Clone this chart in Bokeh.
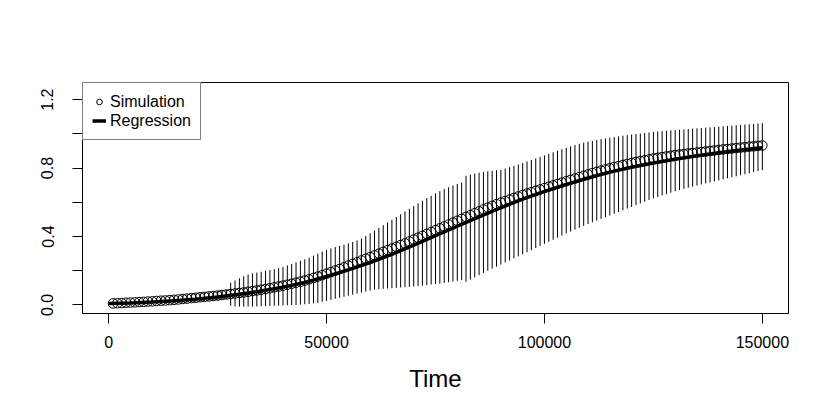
from bokeh.plotting import figure
from bokeh.models import Range1d, FixedTicker, Legend, LegendItem, ColumnDataSource
from bokeh.embed import file_html
from bokeh.resources import INLINE

# ---- data ----
time = list(range(1000, 150001, 1000))

sim_mean = [
    0.009, 0.010, 0.011, 0.013, 0.014, 0.015, 0.017, 0.018, 0.020, 0.021,
    0.023, 0.025, 0.026, 0.028, 0.030, 0.032, 0.035, 0.037, 0.040, 0.042,
    0.045, 0.047, 0.050, 0.052, 0.055, 0.058, 0.061, 0.064, 0.067, 0.070,
    0.073, 0.077, 0.081, 0.085, 0.089, 0.093, 0.098, 0.103, 0.108, 0.113,
    0.118, 0.124, 0.130, 0.136, 0.143, 0.150, 0.158, 0.166, 0.174, 0.183,
    0.192, 0.201, 0.210, 0.220, 0.230, 0.240, 0.250, 0.260, 0.270, 0.280,
    0.290, 0.300, 0.310, 0.320, 0.330, 0.340, 0.350, 0.360, 0.371, 0.382,
    0.393, 0.404, 0.415, 0.426, 0.437, 0.448, 0.459, 0.470, 0.481, 0.492,
    0.503, 0.514, 0.525, 0.536, 0.547, 0.558, 0.569, 0.579, 0.589, 0.598,
    0.607, 0.616, 0.625, 0.634, 0.643, 0.651, 0.659, 0.667, 0.675, 0.683,
    0.691, 0.699, 0.707, 0.715, 0.723, 0.731, 0.739, 0.747, 0.755, 0.763,
    0.771, 0.778, 0.785, 0.792, 0.799, 0.806, 0.812, 0.818, 0.824, 0.830,
    0.836, 0.841, 0.846, 0.851, 0.856, 0.860, 0.864, 0.868, 0.872, 0.876,
    0.879, 0.882, 0.885, 0.888, 0.891, 0.894, 0.897, 0.900, 0.903, 0.906,
    0.909, 0.912, 0.914, 0.917, 0.920, 0.922, 0.925, 0.927, 0.930, 0.932,
]

sim_upper = [
    0.019, 0.021, 0.023, 0.025, 0.027, 0.029, 0.031, 0.033, 0.036, 0.037,
    0.040, 0.043, 0.044, 0.047, 0.050, 0.052, 0.056, 0.059, 0.062, 0.065,
    0.068, 0.071, 0.074, 0.077, 0.080, 0.084, 0.087, 0.130, 0.143, 0.156,
    0.168, 0.178, 0.184, 0.189, 0.194, 0.199, 0.204, 0.209, 0.215, 0.222,
    0.231, 0.240, 0.249, 0.258, 0.267, 0.276, 0.288, 0.300, 0.312, 0.322,
    0.330, 0.338, 0.345, 0.352, 0.360, 0.368, 0.377, 0.389, 0.403, 0.419,
    0.435, 0.450, 0.466, 0.482, 0.498, 0.514, 0.530, 0.546, 0.562, 0.578,
    0.594, 0.609, 0.624, 0.638, 0.652, 0.665, 0.677, 0.688, 0.698, 0.707,
    0.715, 0.755, 0.762, 0.768, 0.773, 0.777, 0.781, 0.784, 0.787, 0.790,
    0.797, 0.805, 0.813, 0.821, 0.829, 0.838, 0.847, 0.856, 0.865, 0.874,
    0.883, 0.892, 0.901, 0.910, 0.918, 0.927, 0.935, 0.942, 0.948, 0.954,
    0.959, 0.964, 0.969, 0.973, 0.977, 0.981, 0.985, 0.989, 0.993, 0.996,
    0.999, 1.002, 1.005, 1.008, 1.011, 1.014, 1.016, 1.018, 1.020, 1.022,
    1.024, 1.026, 1.028, 1.030, 1.032, 1.034, 1.036, 1.038, 1.040, 1.042,
    1.044, 1.046, 1.048, 1.050, 1.052, 1.054, 1.056, 1.058, 1.060, 1.062,
]

sim_lower = [
    0.000, 0.000, 0.000, 0.001, 0.001, 0.001, 0.002, 0.003, 0.004, 0.005,
    0.006, 0.007, 0.008, 0.009, 0.010, 0.012, 0.014, 0.015, 0.018, 0.019,
    0.022, 0.023, 0.026, 0.027, 0.030, 0.032, 0.035, -0.005, -0.008, -0.010,
    -0.010, -0.010, -0.010, -0.009, -0.008, -0.007, -0.006, -0.005, -0.004, -0.003,
    -0.002, -0.001, 0.000, 0.002, 0.004, 0.006, 0.009, 0.013, 0.018, 0.024,
    0.030, 0.036, 0.042, 0.048, 0.054, 0.060, 0.066, 0.072, 0.078, 0.084,
    0.089, 0.092, 0.094, 0.096, 0.098, 0.100, 0.102, 0.104, 0.106, 0.108,
    0.110, 0.113, 0.116, 0.119, 0.122, 0.125, 0.129, 0.133, 0.137, 0.141,
    0.145, 0.135, 0.148, 0.161, 0.174, 0.187, 0.200, 0.212, 0.224, 0.236,
    0.248, 0.260, 0.272, 0.284, 0.296, 0.308, 0.320, 0.333, 0.345, 0.357,
    0.369, 0.381, 0.393, 0.405, 0.417, 0.429, 0.440, 0.451, 0.462, 0.473,
    0.483, 0.493, 0.503, 0.513, 0.523, 0.533, 0.543, 0.553, 0.563, 0.573,
    0.583, 0.593, 0.603, 0.613, 0.622, 0.631, 0.640, 0.648, 0.656, 0.664,
    0.671, 0.678, 0.685, 0.692, 0.698, 0.704, 0.710, 0.716, 0.722, 0.728,
    0.734, 0.740, 0.746, 0.752, 0.758, 0.764, 0.770, 0.776, 0.782, 0.788,
]

reg_time = [0, 5000, 10000, 15000, 20000, 25000, 30000, 35000, 40000, 45000,
            50000, 55000, 60000, 65000, 70000, 75000, 80000, 85000, 90000, 95000,
            100000, 105000, 110000, 115000, 120000, 125000, 130000, 135000,
            140000, 145000, 150000]
reg_value = [0.008, 0.012, 0.017, 0.024, 0.034, 0.047, 0.062, 0.081, 0.104, 0.132,
             0.166, 0.205, 0.248, 0.296, 0.350, 0.405, 0.460, 0.515, 0.568, 0.618,
             0.664, 0.705, 0.742, 0.776, 0.805, 0.830, 0.852, 0.872, 0.889, 0.905,
             0.919]

x_ticks = [0, 50000, 100000, 150000]
x_tick_labels = ["0", "50000", "100000", "150000"]
y_ticks = [0.0, 0.2, 0.4, 0.6, 0.8, 1.0, 1.2]
y_tick_labels = ["0.0", "", "0.4", "", "0.8", "", "1.2"]

FONT = "Liberation Sans"

src = ColumnDataSource(dict(t=time, m=sim_mean, lo=sim_lower, hi=sim_upper))
reg_src = ColumnDataSource(dict(t=reg_time, v=reg_value))

p = figure(
    frame_width=706, frame_height=231,
    min_border_left=82, min_border_top=82, min_border_right=34, min_border_bottom=94,
    x_range=Range1d(-6000, 156000), y_range=Range1d(-0.05, 1.30),
    output_backend="svg", toolbar_location=None,
)
p.background_fill_color = "white"
p.border_fill_color = "white"
p.outline_line_color = "black"
p.outline_line_width = 1
p.xgrid.visible = False
p.ygrid.visible = False

# error bars
p.segment(x0="t", y0="lo", x1="t", y1="hi", source=src, line_color="black", line_width=1)
# simulation points
sim = p.scatter(x="t", y="m", source=src, marker="circle", size=9.5,
                fill_color=None, line_color="black", line_width=1)
# regression
reg = p.line(x="t", y="v", source=reg_src, line_color="black", line_width=3.5)

for ax in (p.xaxis[0], p.yaxis[0]):
    ax.axis_line_color = "black"
    ax.major_tick_in = 0
    ax.major_tick_out = 10
    ax.minor_tick_line_color = None
    ax.major_label_text_font = FONT
    ax.major_label_text_font_size = "16px"
    ax.major_label_text_color = "black"
    ax.major_tick_line_color = "black"

p.xaxis.ticker = FixedTicker(ticks=x_ticks)
p.xaxis.major_label_overrides = dict(zip(x_ticks, x_tick_labels))
p.xaxis.major_label_standoff = 12
p.xaxis.axis_label = "Time"
p.xaxis.axis_label_text_font = FONT
p.xaxis.axis_label_text_font_size = "24px"
p.xaxis.axis_label_text_font_style = "normal"
p.xaxis.axis_label_text_color = "black"
p.xaxis.axis_label_standoff = 14

p.yaxis.ticker = FixedTicker(ticks=y_ticks)
p.yaxis.major_label_overrides = dict(zip(y_ticks, y_tick_labels))
p.yaxis.major_label_orientation = "vertical"
p.yaxis.major_label_standoff = 19

legend = Legend(
    items=[LegendItem(label="Simulation", renderers=[sim]),
           LegendItem(label="Regression", renderers=[reg])],
    location="top_left", margin=0, padding=9, spacing=0,
    glyph_width=14, glyph_height=19, label_height=19, label_standoff=4,
    label_text_font=FONT, label_text_font_size="16px", label_text_color="black",
    border_line_color="black", border_line_width=1,
    background_fill_color="white", background_fill_alpha=1.0,
)
p.add_layout(legend)

open("out.html", "w").write(file_html(p, INLINE))
